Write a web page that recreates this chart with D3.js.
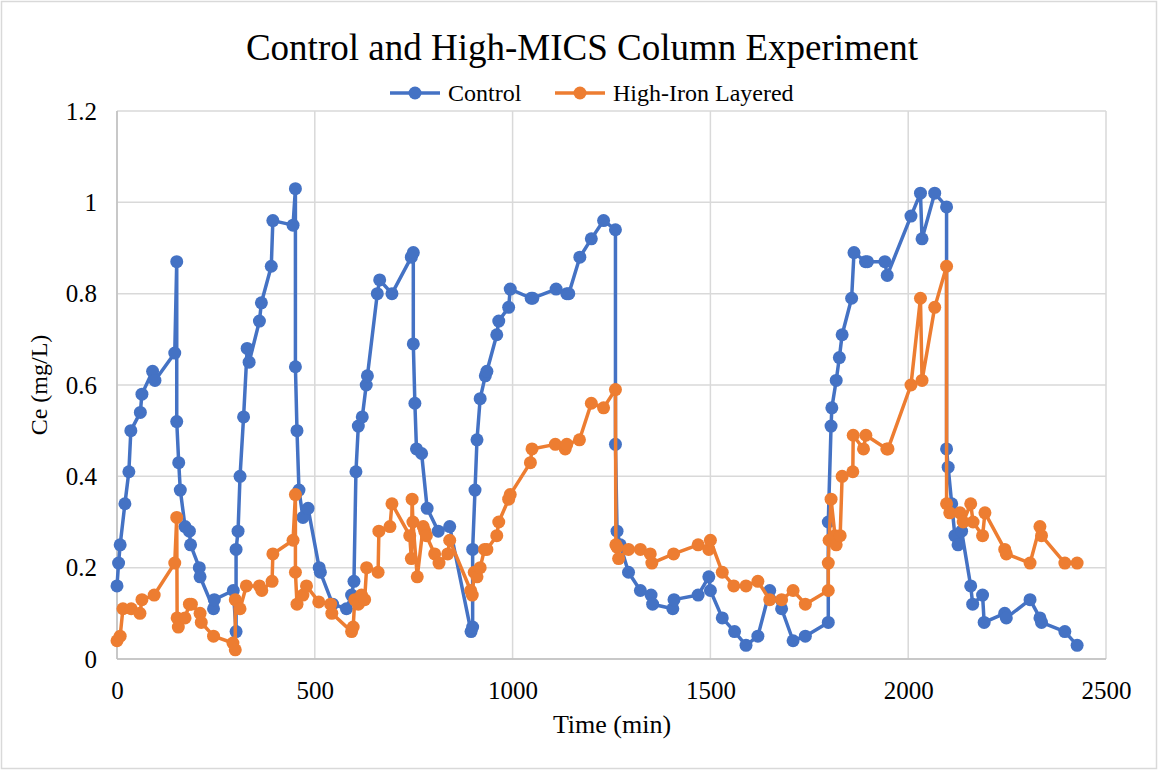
<!DOCTYPE html>
<html>
<head>
<meta charset="utf-8">
<script src="https://cdn.jsdelivr.net/npm/d3@7"></script>
<style>
  html, body { margin: 0; padding: 0; background: #fff; }
  svg text { font-family: "Liberation Serif", "Times New Roman", serif; fill: #000; }
</style>
</head>
<body>
<svg id="chart" width="1158" height="770"></svg>
<script>
// ---- Data ----
const controlTime = [0,4,8,20,30,35,59,63,90,96,146,151,151,156,160,172,183,186,208,210,244,246,294,301,301,306,311,320,329,334,360,365,390,394,445,451,451,455,460,470,483,511,514,545,580,593,599,604,610,620,630,633,658,664,695,744,749,749,753,757,770,784,812,841,895,899,899,905,910,918,931,935,960,965,990,994,1047,1051,1110,1137,1142,1170,1199,1230,1260,1260,1264,1272,1293,1323,1350,1354,1405,1408,1469,1496,1500,1530,1561,1590,1620,1650,1680,1709,1740,1798,1798,1805,1807,1818,1826,1833,1857,1863,1892,1897,1941,1947,2007,2031,2035,2067,2097,2097,2101,2110,2118,2126,2135,2158,2163,2188,2192,2244,2248,2308,2333,2337,2396,2427];
const controlCe = [0.16,0.21,0.25,0.34,0.41,0.50,0.54,0.58,0.63,0.61,0.67,0.87,0.52,0.43,0.37,0.29,0.28,0.25,0.20,0.18,0.11,0.13,0.15,0.06,0.24,0.28,0.40,0.53,0.68,0.65,0.74,0.78,0.86,0.96,0.95,1.03,0.64,0.50,0.37,0.31,0.33,0.20,0.19,0.12,0.11,0.14,0.17,0.41,0.51,0.53,0.60,0.62,0.80,0.83,0.80,0.88,0.89,0.69,0.56,0.46,0.45,0.33,0.28,0.29,0.06,0.07,0.24,0.37,0.48,0.57,0.62,0.63,0.71,0.74,0.77,0.81,0.79,0.79,0.81,0.80,0.80,0.88,0.92,0.96,0.94,0.47,0.28,0.25,0.19,0.15,0.14,0.12,0.11,0.13,0.14,0.18,0.15,0.09,0.06,0.03,0.05,0.15,0.11,0.04,0.05,0.08,0.30,0.51,0.55,0.61,0.66,0.71,0.79,0.89,0.87,0.87,0.87,0.84,0.97,1.02,0.92,1.02,0.99,0.46,0.42,0.34,0.27,0.25,0.28,0.16,0.12,0.14,0.08,0.10,0.09,0.13,0.09,0.08,0.06,0.03];

const ironTime = [0,8,15,36,58,63,94,146,151,152,155,172,183,188,210,213,244,293,299,299,311,327,360,366,392,394,445,451,451,455,470,479,510,540,543,593,597,601,610,618,626,631,660,662,690,695,740,744,746,748,759,774,778,782,803,814,836,841,894,898,903,910,918,929,935,960,965,990,994,1045,1049,1108,1133,1137,1169,1199,1230,1260,1261,1264,1268,1293,1323,1348,1352,1407,1469,1496,1500,1530,1559,1590,1620,1650,1680,1709,1740,1798,1798,1800,1805,1815,1818,1828,1833,1860,1861,1887,1893,1946,1949,2007,2031,2035,2067,2097,2097,2105,2131,2139,2158,2164,2188,2194,2244,2248,2308,2333,2337,2396,2427];
const ironCe = [0.04,0.05,0.11,0.11,0.10,0.13,0.14,0.21,0.31,0.09,0.07,0.09,0.12,0.12,0.10,0.08,0.05,0.035,0.02,0.13,0.11,0.16,0.16,0.15,0.17,0.23,0.26,0.36,0.19,0.12,0.14,0.16,0.125,0.12,0.10,0.06,0.07,0.13,0.12,0.14,0.13,0.20,0.19,0.28,0.29,0.34,0.27,0.22,0.35,0.30,0.18,0.29,0.28,0.27,0.23,0.21,0.23,0.26,0.15,0.14,0.19,0.18,0.20,0.24,0.24,0.27,0.30,0.35,0.36,0.43,0.46,0.47,0.46,0.47,0.48,0.56,0.55,0.59,0.25,0.245,0.22,0.24,0.24,0.23,0.21,0.23,0.25,0.24,0.26,0.19,0.16,0.16,0.17,0.13,0.13,0.15,0.12,0.15,0.21,0.26,0.35,0.27,0.25,0.27,0.40,0.41,0.49,0.46,0.49,0.46,0.46,0.60,0.79,0.61,0.77,0.86,0.34,0.32,0.32,0.30,0.34,0.30,0.27,0.32,0.24,0.23,0.21,0.29,0.27,0.21,0.21];

const xTicks = [0,500,1000,1500,2000,2500];
const yTicks = [0,0.2,0.4,0.6,0.8,1,1.2];
const seriesNames = ["Control","High-Iron Layered"];
const seriesColors = ["#4472C4","#ED7D31"];

(function(){
const svg = d3.select("#chart");
const pL = 117, pR = 1106, pT = 111, pB = 659;

svg.append("rect").attr("x",1.5).attr("y",1.5).attr("width",1155).attr("height",767)
  .attr("fill","#fff").attr("stroke","#d9d9d9").attr("stroke-width",1.5);

const x = d3.scaleLinear().domain([0,2500]).range([pL,pR]);
const y = d3.scaleLinear().domain([0,1.2]).range([pB,pT]);

const g = svg.append("g");
g.selectAll("line.h").data(yTicks).enter().append("line")
  .attr("x1",pL).attr("x2",pR).attr("y1",d=>y(d)).attr("y2",d=>y(d))
  .attr("stroke","#d9d9d9").attr("stroke-width",1.5);
g.selectAll("line.v").data(xTicks).enter().append("line")
  .attr("y1",pT).attr("y2",pB).attr("x1",d=>x(d)).attr("x2",d=>x(d))
  .attr("stroke","#d9d9d9").attr("stroke-width",1.5);
svg.append("line").attr("x1",pL).attr("x2",pL).attr("y1",pT).attr("y2",pB).attr("stroke","#bfbfbf").attr("stroke-width",1.5);
svg.append("line").attr("x1",pL).attr("x2",pR).attr("y1",pB).attr("y2",pB).attr("stroke","#bfbfbf").attr("stroke-width",1.5);

const xAxis = d3.axisBottom(x).tickValues(xTicks).tickSize(0).tickPadding(0).tickFormat(d3.format("d"));
const xa = svg.append("g").attr("transform",`translate(0,${pB})`).call(xAxis);
xa.select(".domain").remove();
xa.selectAll("text").attr("font-size",25).attr("font-family","Liberation Serif").attr("fill","#000").attr("dy",null).attr("y",40);

const yAxis = d3.axisLeft(y).tickValues(yTicks).tickSize(0).tickPadding(0).tickFormat(d=>String(+d.toFixed(1)));
const ya = svg.append("g").attr("transform",`translate(97,0)`).call(yAxis);
ya.select(".domain").remove();
ya.selectAll("text").attr("font-size",25).attr("font-family","Liberation Serif").attr("fill","#000").attr("dy","0.33em").attr("x",0);

const line = d3.line().x(d=>x(d[0])).y(d=>y(d[1]));
const series = [
  {name: seriesNames[0], color: seriesColors[0], pts: controlTime.map((t,i)=>[t,controlCe[i]])},
  {name: seriesNames[1], color: seriesColors[1], pts: ironTime.map((t,i)=>[t,ironCe[i]])}
];
series.forEach(s=>{
  svg.append("path").datum(s.pts).attr("d",line).attr("fill","none")
    .attr("stroke",s.color).attr("stroke-width",3.5).attr("stroke-linejoin","round");
  svg.append("g").selectAll("circle").data(s.pts).enter().append("circle")
    .attr("cx",d=>x(d[0])).attr("cy",d=>y(d[1])).attr("r",6.5).attr("fill",s.color);
});

svg.append("text").attr("x",582).attr("y",60).attr("text-anchor","middle").attr("font-size",37)
  .text("Control and High-MICS Column Experiment");

const legendX = [390, 555];
series.forEach((s,i)=>{
  const lx = legendX[i];
  svg.append("line").attr("x1",lx).attr("x2",lx+50).attr("y1",93).attr("y2",93).attr("stroke",s.color).attr("stroke-width",3.5);
  svg.append("circle").attr("cx",lx+25).attr("cy",93).attr("r",6.5).attr("fill",s.color);
  svg.append("text").attr("x",lx+58).attr("y",101).attr("font-size",24).text(s.name);
});

svg.append("text").attr("x",612).attr("y",733).attr("text-anchor","middle").attr("font-size",26).text("Time (min)");
svg.append("text").attr("transform","translate(47,385) rotate(-90)").attr("text-anchor","middle").attr("font-size",24).text("Ce (mg/L)");
})();
</script>
</body>
</html>
